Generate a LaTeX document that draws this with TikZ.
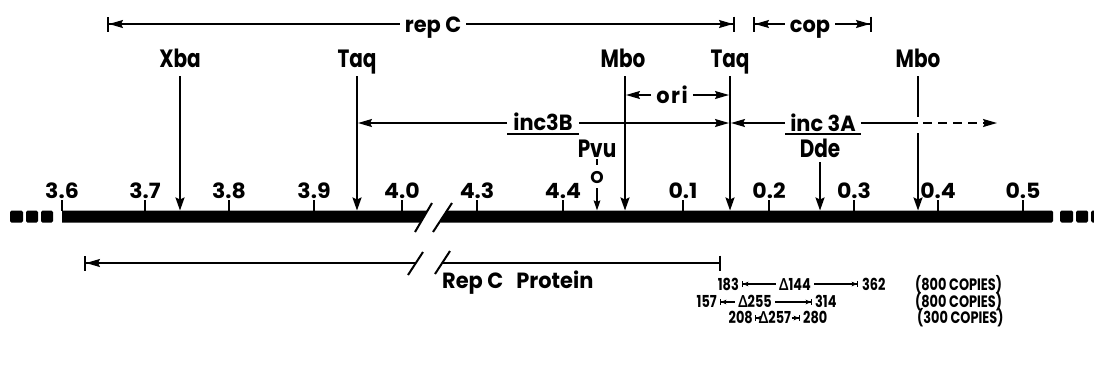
\documentclass[tikz,border=0pt]{standalone}
\usepackage{fontspec}
\setmainfont{Poppins}
\newfontfamily\sitef{Poppins}[FakeStretch=0.8]
\newfontfamily\regf{Poppins}[FakeStretch=0.95]
\newfontfamily\numf{Poppins}[FakeStretch=1.05]
\newfontfamily\rowf{Poppins}[FakeStretch=0.78]
\newfontfamily\grkf{Lato}[FakeStretch=0.82]
\usetikzlibrary{arrows.meta}
\tikzset{
  ah/.tip={Stealth[length=14pt,width=8pt,inset=2pt,sep=0pt]},
  vh/.tip={Stealth[length=13pt,width=9pt,inset=2pt]},
  ph/.tip={Stealth[length=10pt,width=6.5pt,inset=1.5pt]},
  bh/.tip={Bar[width=15pt,line width=2pt,sep=0pt]},
  sh/.tip={Stealth[length=5pt,width=4.5pt,inset=0.8pt,sep=0pt]},
  sb/.tip={Bar[width=6pt,line width=1.2pt,sep=0pt]},
  site/.style={font=\sitef\bfseries\fontsize{25}{27}\selectfont,inner sep=0pt,anchor=base},
  reg/.style={font=\regf\bfseries\fontsize{22}{24}\selectfont,inner sep=0pt,inner xsep=5pt,anchor=base},
  ticklab/.style={font=\numf\bfseries\fontsize{21}{23}\selectfont,inner sep=0pt,anchor=base},
  rowlab/.style={font=\rowf\bfseries\fontsize{16.5}{18}\selectfont,inner sep=0pt,anchor=base},
  vl/.style={line width=2pt,-{vh[]}},
  hl/.style={line width=1.6pt},
  tk/.style={line width=2pt},
  dl/.style={line width=1.2pt},
  sq/.style={fill=black,rounded corners=1.5pt},
}
\begin{document}
\begin{tikzpicture}[x=1pt,y=-1pt]
\useasboundingbox (0,0) rectangle (1094,368);
\coordinate (vtop) at (0,76);
\coordinate (btop) at (0,210.5);

% ---- main bar ----
\fill (62,210.5) -- (427.6,210.5) -- (420.6,222.5) -- (62,222.5) -- cycle;
\fill[rounded corners=1.5pt] (447.1,210.5) -- (1053,210.5) -- (1053,222.5) -- (439.2,222.5) -- cycle;
\draw[line width=2pt] (415,232) -- (432,203);
\draw[line width=2pt] (433,232) -- (452,203);
\fill[sq] (10,210.5) rectangle (23,222.5);
\fill[sq] (26,210.5) rectangle (38,222.5);
\fill[sq] (41,210.5) rectangle (53,222.5);
\fill[sq] (1060,210.5) rectangle (1073,222.5);
\fill[sq] (1076,210.5) rectangle (1088,222.5);
\fill[sq] (1091,210.5) rectangle (1104,222.5);

% ---- ticks ----
\foreach \x/\t [count=\i] in {62/3.6,145/3.7,229/3.8,314/3.9,402/4.0,477/4.3,563/4.4,683/0.1,769/0.2,854/0.3,938/0.4,1023/0.5}{
  \coordinate (tb\i) at (\x,210.5);
  \draw[tk] (tb\i) -- ++(0,-10.5);
  \node[ticklab] (tl\i) at (\x,198) {\t};
}

% ---- restriction sites ----
\node[site] (xba) at (180,67) {Xba};
\node[site] (taqA) at (357,67) {Taq};
\node[site] (mboA) at (623,67) {Mbo};
\node[site] (taqB) at (730,67) {Taq};
\node[site] (mboB) at (918,67) {Mbo};
\draw[vl] (xba |- vtop) -- (xba |- btop);
\draw[vl] (taqA |- vtop) -- (taqA |- btop);
\draw[vl] ([xshift=2pt]mboA.center |- vtop) -- ([xshift=2pt]mboA.center |- btop);
\draw[vl] (taqB |- vtop) -- (taqB |- btop);
\draw[line width=2pt] (mboB |- vtop) -- (mboB |- 0,117);
\draw[vl] (mboB |- 0,133) -- (mboB |- btop);

% ---- rep C ----
\coordinate (repL) at (107,24);
\coordinate (repR) at (735,24);
\node[reg] (repc) at (433,32) {rep C};
\draw[hl,{bh[]ah[]}-] (repL) -- (repc.west |- repL);
\draw[hl,-{ah[]bh[]}] (repc.east |- repR) -- (repR);

% ---- cop ----
\coordinate (copL) at (753,24);
\coordinate (copR) at (872,24);
\node[reg] (cop) at (810,32) {cop};
\draw[hl,{bh[]ah[]}-] (copL) -- (cop.west |- copL);
\draw[hl,-{ah[]bh[]}] (cop.east |- copR) -- (copR);

% ---- ori ----
\coordinate (oriL) at (626,95);
\coordinate (oriR) at (729,95);
\node[reg] (ori) at (672,103) {o\kern1.5pt r\kern1.5pt i};
\draw[hl,-{ah[]}] (ori.west |- oriL) -- (oriL);
\draw[hl,-{ah[]}] (ori.east |- oriR) -- (oriR);

% ---- inc3B ----
\coordinate (ibL) at (358,123);
\coordinate (ibR) at (729,123);
\node[reg,inner xsep=6pt] (incb) at (543,130) {inc3B};
\draw[hl,-{ah[]}] (incb.west |- ibL) -- (ibL);
\draw[hl,-{ah[]}] (incb.east |- ibR) -- (ibR);
\draw[hl] (incb.west |- 0,134) -- (incb.east |- 0,134);

% ---- inc 3A ----
\coordinate (iaL) at (731,123);
\coordinate (iaM) at (918,123);
\coordinate (iaD) at (923,123);
\coordinate (iaR) at (997,123);
\node[reg,inner xsep=5pt] (inca) at (823,131) {inc 3A};
\draw[hl,-{ah[]}] (inca.west |- iaL) -- (iaL);
\draw[hl] (inca.east |- iaM) -- (iaM);
\draw[hl,dash pattern=on 9pt off 6pt,-{ah[]}] (iaD) -- (iaR);
\draw[hl] (inca.west |- 0,134) -- (inca.east |- 0,134);

% ---- Pvu ----
\node[site] (pvu) at (597,157) {Pvu};
\draw[line width=1.6pt] (pvu |- 0,159) -- (pvu |- 0,165);
\node[font=\bfseries\fontsize{17}{19}\selectfont,inner sep=0pt,anchor=base] (oo) at (597,183) {O};
\draw[line width=1.8pt,-{ph[]}] (pvu |- 0,188) -- (pvu |- btop);

% ---- Dde ----
\node[site] (dde) at (820,157) {Dde};
\draw[vl] (dde |- 0,162) -- (dde |- btop);

% ---- Rep C Protein ----
\coordinate (rpL) at (84,263);
\coordinate (rpS1) at (416,263);
\coordinate (rpS2) at (442,263);
\coordinate (rpR) at (721,263);
\draw[hl,{bh[]ah[]}-] (rpL) -- (rpS1);
\draw[hl,-{bh[]}] (rpS2) -- (rpR);
\draw[line width=2pt] (408,275) -- (423,252);
\draw[line width=2pt] (435,274) -- (450,251);
\node[reg,anchor=base west,inner xsep=0pt] (rpt) at (442,288) {Rep C\hspace{0.6em}Protein};

% ---- deletions ----
\node[rowlab,anchor=base east] (n183) at (739,290) {183};
\coordinate (r1L) at (742,284);
\node[rowlab,inner xsep=3pt] (d144) at (795,290) {{\grkf Δ}144};
\coordinate (r1R) at (858,284);
\node[rowlab,anchor=base west] (n362) at (862,290) {362};
\node[rowlab,anchor=base west] (c1) at (915,290) {(800 COPIES)};
\draw[dl,{sb[]sh[]}-] (r1L) -- (d144.west |- r1L);
\draw[dl,-{sh[]sb[]}] (d144.east |- r1R) -- (r1R);

\node[rowlab,anchor=base east] (n157) at (717,307) {157};
\coordinate (r2L) at (720,302);
\node[rowlab,inner xsep=3pt] (d255) at (755,307) {{\grkf Δ}255};
\coordinate (r2R) at (812,302);
\node[rowlab,anchor=base west] (n314) at (815,307) {314};
\node[rowlab,anchor=base west] (c2) at (915,307) {(800 COPIES)};
\draw[dl,{sb[]sh[]}-] (r2L) -- (d255.west |- r2L);
\draw[dl,-{sh[]sb[]}] (d255.east |- r2R) -- (r2R);

\node[rowlab,anchor=base east] (n208) at (753,323) {208};
\coordinate (r3L) at (755,318);
\node[rowlab,inner xsep=0.5pt] (d257) at (775,323) {{\grkf Δ}257};
\coordinate (r3R) at (800,318);
\node[rowlab,anchor=base west] (n280) at (803,323) {280};
\node[rowlab,anchor=base west] (c3) at (917,323) {(300 COPIES)};
\draw[dl,{sb[]sh[]}-] (r3L) -- (d257.west |- r3L);
\draw[dl,-{sh[]sb[]}] (d257.east |- r3R) -- (r3R);
\end{tikzpicture}
\end{document}
